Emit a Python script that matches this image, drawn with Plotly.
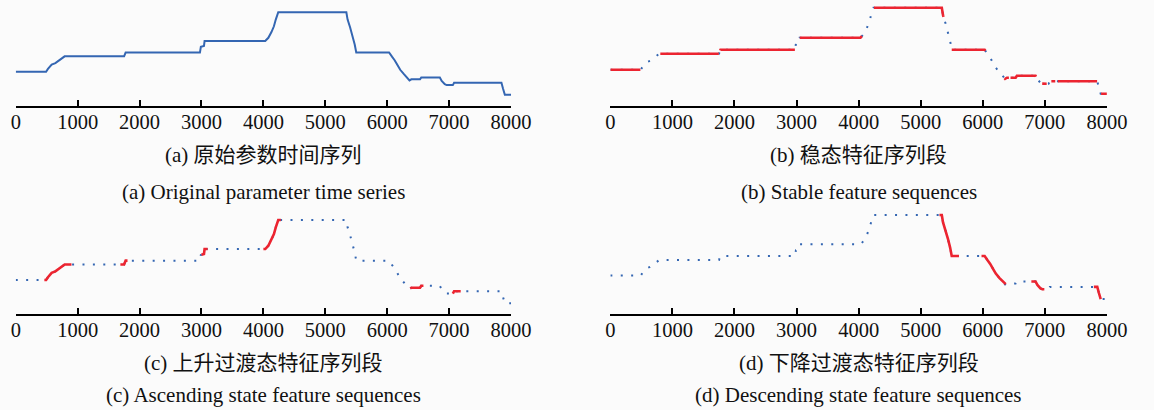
import numpy as np
import plotly.graph_objects as go

W, H = 1154, 410

# ---- data: parameter time series ----
time_idx = [0, 490, 520, 560, 580, 640, 700, 740, 790, 1750, 1775, 2975, 2990, 3040, 3050,
            4030, 4080, 4130, 4170, 4200, 4240, 5340, 5360, 5400, 5440, 5475, 5500,
            6030, 6080, 6120, 6170, 6210, 6270, 6320, 6360, 6390, 6530, 6550, 6850,
            6880, 6930, 6960, 7060, 7080, 7845, 7870, 7900, 8000]
param_val = [37.6, 37.6, 40.5, 43.0, 45.0, 46.5, 49.0, 51.0, 53.6, 53.6, 57.6, 57.6, 63.5, 64.5, 69.6,
             69.6, 73.0, 79.0, 85.0, 92.0, 99.6, 99.6, 92.0, 84.0, 75.0, 66.0, 57.6,
             57.6, 53.0, 49.6, 44.0, 39.6, 35.0, 31.6, 28.5, 29.6, 29.6, 31.6, 31.6,
             28.0, 24.5, 23.6, 23.6, 26.0, 26.0, 20.0, 13.6, 13.6]

# segmentation results (time intervals)
stable_segments = [(0, 484), (805, 1747), (1770, 2973), (3052, 4053), (4247, 5368),
                   (5500, 6042), (6352, 6421), (6447, 6858), (6958, 7030),
                   (7105, 7168), (7210, 7842), (7906, 8000)]
ascending_segments = [(462, 900), (1690, 1805), (3000, 3100), (4000, 4282),
                      (6372, 6585), (7060, 7187)]
descending_segments = [(5302, 5617), (5980, 6370), (6783, 6992), (7790, 7900)]

x_ticks = [0, 1000, 2000, 3000, 4000, 5000, 6000, 7000, 8000]

captions_cn = ["(a) 原始参数时间序列", "(b) 稳态特征序列段",
               "(c) 上升过渡态特征序列段", "(d) 下降过渡态特征序列段"]
captions_en = ["(a) Original parameter time series", "(b) Stable feature sequences",
               "(c) Ascending state feature sequences", "(d) Descending state feature sequences"]

BLUE = "#3466b2"
RED = "#ec2430"
BG = "#fbfbfb"
FONT = "Liberation Serif, Times New Roman, Noto Sans CJK SC, serif"


def extract(intervals):
    t = np.array(time_idx, float)
    v = np.array(param_val, float)
    xs, ys = [], []
    for a, b in intervals:
        inner = (t > a) & (t < b)
        xs += [a] + t[inner].tolist() + [b, None]
        ys += [float(np.interp(a, t, v))] + v[inner].tolist() + [float(np.interp(b, t, v)), None]
    return xs, ys


# panel geometry in pixels: x of 0 / 8000, y of axis line, px per unit, value at axis
panels = [
    dict(x0=11, x1=517.7, axis=107.3, slope=0.958, v0=0.44, cn=155, en=191.5, hi=None),
    dict(x0=619.3, x1=1127.3, axis=107.3, slope=1.0, v0=0.0, cn=155, en=191.5, hi=stable_segments),
    dict(x0=11, x1=517.7, axis=315, slope=0.968, v0=1.44, cn=363, en=395, hi=ascending_segments),
    dict(x0=619.3, x1=1127.3, axis=315, slope=0.977, v0=-2.75, cn=363, en=395, hi=descending_segments),
]
PLOT_H = 104

fig = go.Figure()
layout = dict(width=W, height=H, margin=dict(l=0, r=0, t=0, b=0),
              paper_bgcolor=BG, plot_bgcolor=BG, showlegend=False,
              font=dict(family=FONT, color="#111111", size=19))
annotations = []

for i, p in enumerate(panels):
    n = "" if i == 0 else str(i + 1)
    xa, ya = "x" + n, "y" + n
    if p["hi"] is None:
        fig.add_trace(go.Scatter(x=time_idx, y=param_val, mode="lines", xaxis=xa, yaxis=ya,
                                 line=dict(color=BLUE, width=2), hoverinfo="skip"))
    else:
        fig.add_trace(go.Scatter(x=time_idx, y=param_val, mode="lines", xaxis=xa, yaxis=ya,
                                 line=dict(color=BLUE, width=2, dash="2px,8.4px"), hoverinfo="skip"))
        rx, ry = extract(p["hi"])
        fig.add_trace(go.Scatter(x=rx, y=ry, mode="lines", xaxis=xa, yaxis=ya, connectgaps=False,
                                 line=dict(color=RED, width=2.6), hoverinfo="skip"))
    bottom_px = p["axis"] - 1
    top_px = bottom_px - PLOT_H
    layout["xaxis" + n] = dict(
        domain=[p["x0"] / W, p["x1"] / W], range=[0, 8000], anchor=ya,
        showgrid=False, zeroline=False, showline=True, linecolor="black", linewidth=2,
        ticks="inside", ticklen=6, tickwidth=2, tickcolor="black",
        tickvals=x_ticks, ticktext=[str(t) for t in x_ticks], ticklabelstandoff=-4,
        tickfont=dict(family=FONT, size=20.5, color="#111111"), fixedrange=True)
    layout["yaxis" + n] = dict(
        domain=[1 - bottom_px / H, 1 - top_px / H],
        range=[p["v0"] + 1 / p["slope"], p["v0"] + (1 + PLOT_H) / p["slope"]],
        anchor=xa, visible=False, fixedrange=True)
    cx = (p["x0"] + p["x1"]) / 2 / W
    annotations.append(dict(text=captions_cn[i], x=cx, y=1 - p["cn"] / H, xref="paper", yref="paper",
                            showarrow=False, xanchor="center", yanchor="middle",
                            font=dict(family=FONT, size=21, color="#111111")))
    annotations.append(dict(text=captions_en[i], x=cx, y=1 - p["en"] / H, xref="paper", yref="paper",
                            showarrow=False, xanchor="center", yanchor="middle",
                            font=dict(family=FONT, size=21, color="#111111")))

layout["annotations"] = annotations
fig.update_layout(**layout)
fig.write_html("out.html", config={"displayModeBar": False, "staticPlot": True},
               post_script="document.body.style.margin='0';document.body.style.overflow='hidden';")
